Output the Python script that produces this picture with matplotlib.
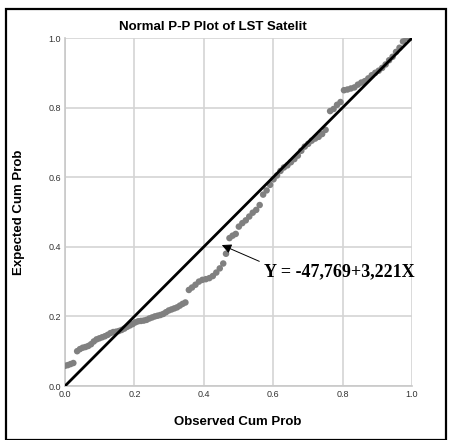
import matplotlib.pyplot as plt
from matplotlib.patches import Rectangle

plt.rcParams['font.family'] = ['Liberation Sans', 'DejaVu Sans']

# observed vs expected cumulative probability
observed = [0.000, 0.008, 0.016, 0.024,
            0.035, 0.043, 0.051, 0.059, 0.067, 0.075, 0.083, 0.091, 0.099, 0.107,
            0.115, 0.123, 0.131, 0.139, 0.147, 0.155, 0.163, 0.171, 0.179, 0.187,
            0.195, 0.203, 0.211, 0.219, 0.227, 0.235, 0.243, 0.251, 0.259, 0.267,
            0.275, 0.283, 0.291, 0.299, 0.307, 0.315, 0.323, 0.331, 0.339, 0.347,
            0.357, 0.366, 0.376, 0.386, 0.396, 0.406, 0.416, 0.426, 0.436, 0.446,
            0.456, 0.464,
            0.474, 0.483, 0.492, 0.501, 0.511, 0.521, 0.531, 0.541, 0.551, 0.561,
            0.571, 0.581, 0.591, 0.601, 0.611, 0.621, 0.631, 0.641, 0.651, 0.661,
            0.671, 0.681, 0.691, 0.701, 0.711, 0.721, 0.731, 0.741, 0.751,
            0.764, 0.774, 0.784, 0.794, 0.804, 0.814, 0.824, 0.834, 0.844, 0.854,
            0.864, 0.874, 0.884, 0.894, 0.904, 0.914, 0.924, 0.934, 0.944, 0.954,
            0.964, 0.974, 0.984, 0.994]
expected = [0.058, 0.060, 0.063, 0.066,
            0.100, 0.106, 0.110, 0.112, 0.115, 0.120, 0.128, 0.134, 0.137, 0.140,
            0.143, 0.147, 0.152, 0.155, 0.156, 0.158, 0.161, 0.165, 0.170, 0.174,
            0.178, 0.183, 0.186, 0.187, 0.188, 0.190, 0.194, 0.197, 0.200, 0.202,
            0.204, 0.207, 0.212, 0.217, 0.220, 0.223, 0.226, 0.231, 0.236, 0.240,
            0.276, 0.283, 0.291, 0.300, 0.305, 0.307, 0.310, 0.316, 0.326, 0.338,
            0.352, 0.380,
            0.425, 0.432, 0.437, 0.458, 0.468, 0.476, 0.487, 0.498, 0.506, 0.520,
            0.550, 0.562, 0.578, 0.594, 0.605, 0.618, 0.628, 0.634, 0.643, 0.652,
            0.662, 0.676, 0.688, 0.696, 0.705, 0.711, 0.716, 0.724, 0.736,
            0.790, 0.796, 0.808, 0.816, 0.850, 0.852, 0.855, 0.858, 0.866, 0.872,
            0.876, 0.884, 0.893, 0.900, 0.906, 0.914, 0.924, 0.936, 0.946, 0.960,
            0.972, 0.990, 1.000, 1.000]

ref_line = [0.0, 1.0]
ticks = [0.0, 0.2, 0.4, 0.6, 0.8, 1.0]
equation = "Y = -47,769+3,221X"

fig = plt.figure(figsize=(4.5, 4.4), dpi=100)
ax = fig.add_axes([65 / 450, 54 / 440, 347 / 450, 348 / 440])

# outer black frame
fig.patches.append(Rectangle((6 / 450, 0.0), 440 / 450, 431 / 440,
                             transform=fig.transFigure, fill=False,
                             edgecolor='black', linewidth=1.6))

ax.grid(True, color='#d4d4d4', linewidth=1.2)
ax.set_axisbelow(True)
for side in ['top', 'right']:
    ax.spines[side].set_visible(False)
for side in ['left', 'bottom']:
    ax.spines[side].set_color('#c8c8c8')
    ax.spines[side].set_linewidth(1.2)

ax.scatter(observed, expected, s=22, color='#808080', edgecolors='none', zorder=3)
ax.plot(ref_line, ref_line, color='black', linewidth=2, zorder=4)

ax.set_xlim(0, 1)
ax.set_ylim(0, 1)
ax.set_xticks(ticks)
ax.set_yticks(ticks)
ax.set_xticklabels([f'{t:.1f}' for t in ticks])
ax.set_yticklabels([f'{t:.1f}' for t in ticks])
ax.tick_params(length=0, labelsize=6.5, colors='#333333', pad=3)

ax.annotate(equation, xy=(0.452, 0.405), xytext=(0.573, 0.316),
            textcoords='data', fontsize=13, fontweight='bold',
            family='Liberation Serif', va='baseline', ha='left',
            arrowprops=dict(arrowstyle='-|>', color='black', lw=0.7,
                            mutation_scale=14, shrinkA=0, shrinkB=0,
                            relpos=(-0.03, 1.1)),
            zorder=5)

fig.text(213 / 450, 1 - 27 / 440, 'Normal P-P Plot of LST Satelit',
         ha='center', va='center', fontsize=9.5, fontweight='bold')
fig.text(238 / 450, 1 - 422 / 440, 'Observed Cum Prob',
         ha='center', va='center', fontsize=9.5, fontweight='bold')
fig.text(19 / 450, 1 - 212 / 440, 'Expected Cum Prob', rotation=90,
         ha='center', va='center', fontsize=9.5, fontweight='bold')

fig.savefig('out.png', dpi=100)
